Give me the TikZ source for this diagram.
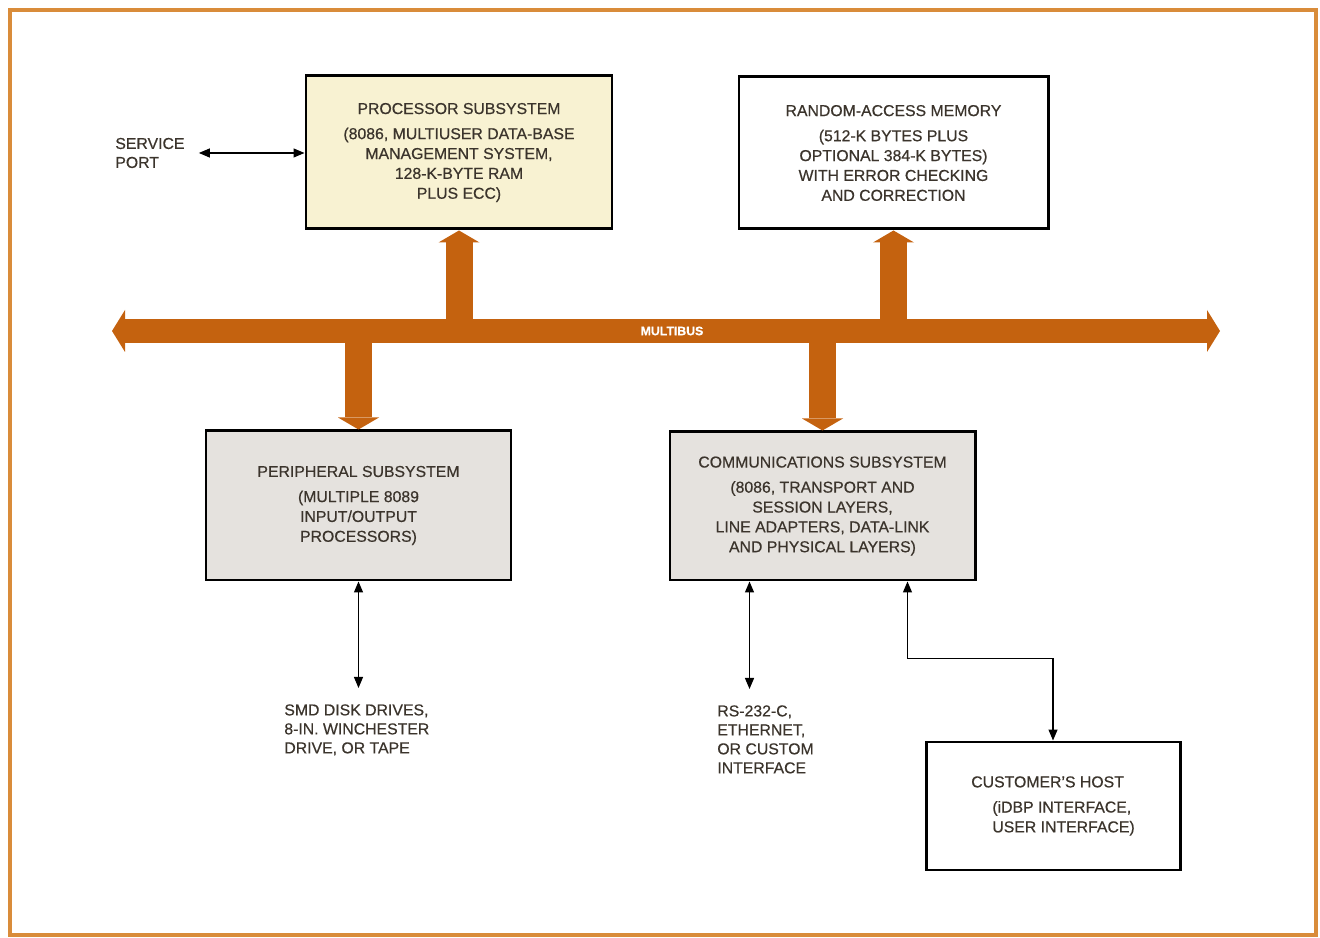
\documentclass[tikz,border=0pt]{standalone}
\usepackage{fontspec}
\setmainfont{Liberation Sans}[FakeBold=0.5]
\usepackage{tikz}
\usetikzlibrary{calc,positioning,arrows.meta}
\definecolor{mbrust}  {HTML}{C4620F}
\definecolor{mbframe} {HTML}{D98C3A}
\definecolor{mbtext}  {HTML}{3B342C}
\definecolor{mbcream} {HTML}{F8F2D2}
\definecolor{mbgray}  {HTML}{E5E2DE}

\begin{document}
\begin{tikzpicture}[
      box/.style={draw=black, line width=1.7pt, text=mbtext, align=center,
                  font=\fontsize{9}{11.3}\selectfont, inner sep=0pt},
      lbl/.style={text=mbtext, align=left, inner sep=0pt,
                  font=\fontsize{9}{10.8}\selectfont},
      bus/.style={mbrust, line width=0.48cm,
                  {Triangle[line width=0pt, length=0.26cm, width=0.84cm]}-{Triangle[line width=0pt, length=0.26cm, width=0.84cm]}},
      feed/.style={mbrust, line width=0.54cm,
                  -{Triangle[line width=0pt, length=0.24cm, width=0.82cm]}},
      link/.style={black, line width=0.7pt,
                  {Triangle[length=2.2mm, width=1.8mm]}-{Triangle[length=2.2mm, width=1.8mm]}},
    ]
      \useasboundingbox (0,0) rectangle (26.4,18.76);
      \draw[mbframe, line width=2pt] (0.2,0.06) rectangle (26.32,18.56);

      \node[box, fill=mbcream, minimum width=6.12cm, minimum height=3.06cm] (proc) at (9.18,15.71)
        {PROCESSOR SUBSYSTEM\\[3pt](8086, MULTIUSER DATA-BASE\\MANAGEMENT SYSTEM,\\128-K-BYTE RAM\\PLUS ECC)};
      \node[box, fill=white, minimum width=6.18cm, minimum height=3.04cm] (ram) at (17.87,15.70)
        {RANDOM-ACCESS MEMORY\\[3pt](512-K BYTES PLUS\\OPTIONAL 384-K BYTES)\\WITH ERROR CHECKING\\AND CORRECTION};
      \node[box, fill=mbgray, minimum width=6.10cm, minimum height=2.98cm] (peri) at (7.17,8.65)
        {PERIPHERAL SUBSYSTEM\\[3pt](MULTIPLE 8089\\INPUT/OUTPUT\\PROCESSORS)};
      \node[box, fill=mbgray, minimum width=6.10cm, minimum height=2.96cm] (comms) at (16.45,8.64)
        {COMMUNICATIONS SUBSYSTEM\\[3pt](8086, TRANSPORT AND\\SESSION LAYERS,\\LINE ADAPTERS, DATA-LINK\\AND PHYSICAL LAYERS)};
      \node[box, fill=white, minimum width=5.08cm, minimum height=2.56cm, align=left] (host) at (21.06,2.64)
        {CUSTOMER'S HOST\\[3pt]\hspace*{12pt}(iDBP INTERFACE,\\\hspace*{12pt}USER INTERFACE)};

      \coordinate (busL) at (2.24,12.14);
      \coordinate (busR) at (24.4,12.14);
      \draw[feed] (proc.south |- busL) -- (proc.south);
      \draw[feed] (ram.south |- busL) -- (ram.south);
      \draw[feed] (peri.north |- busL) -- (peri.north);
      \draw[feed] (comms.north |- busL) -- (comms.north);
      \draw[bus] (busL) -- (busR);
      \node[text=white, font=\bfseries\fontsize{7}{8}\selectfont] (mbus) at (13.44,12.14) {MULTIBUS};

      \node[lbl, anchor=west] (svc) at (2.3,15.70) {SERVICE\\PORT};
      \draw[link] ([xshift=2.8mm]svc.east) -- (svc.east -| proc.west);

      \node[lbl, anchor=north west] (disk) at (5.68,4.68)
        {SMD DISK DRIVES,\\8-IN. WINCHESTER\\DRIVE, OR TAPE};
      \draw[link] (peri.south) -- ([yshift=3.2mm]disk.north -| peri.south);

      \node[lbl, anchor=north west] (iface) at (14.34,4.66)
        {RS-232-C,\\ETHERNET,\\OR CUSTOM\\INTERFACE};
      \coordinate (ifx) at ([xshift=1.62cm]comms.south west);
      \draw[link] (ifx) -- ([yshift=3.2mm]iface.north -| ifx);

      \draw[link] ([xshift=-1.38cm]comms.south east) |- ([yshift=1.64cm]host.north) -- (host.north);
    \end{tikzpicture}
\end{document}
